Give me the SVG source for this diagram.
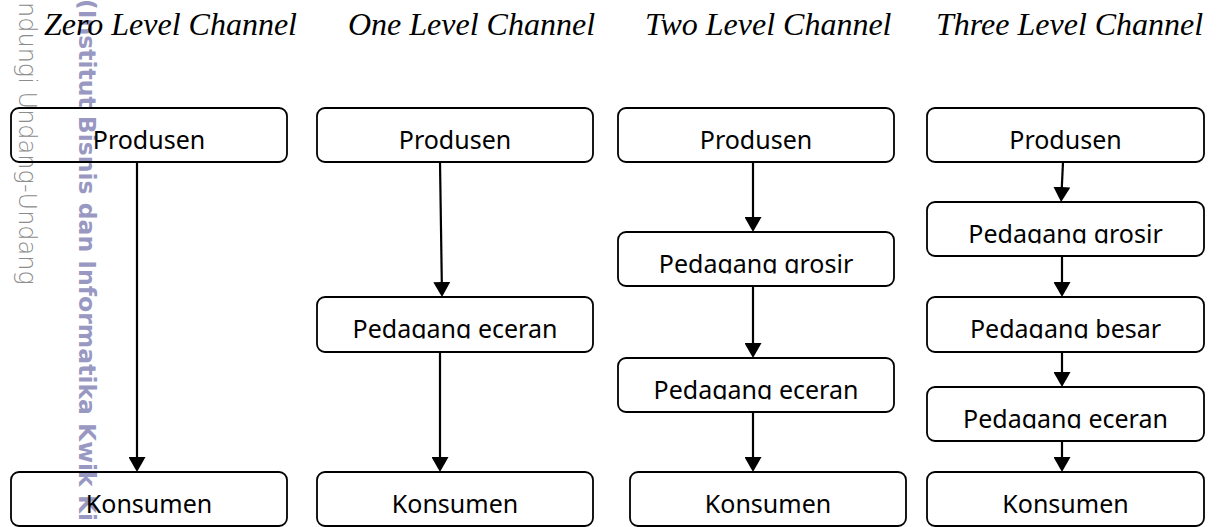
<svg xmlns="http://www.w3.org/2000/svg" width="1219" height="527" viewBox="0 0 1219 527">
<style>
.title{font-family:"Liberation Serif","Times New Roman",serif;font-style:italic;font-size:32px;fill:#000}
.box{fill:none;stroke:#000;stroke-width:1.8}
.lbl{font-family:"Noto Sans","Open Sans",sans-serif;font-size:25px;fill:#000;text-anchor:middle}
.edge{stroke:#000;stroke-width:2.2;fill:none;marker-end:url(#ah)}
.wm{font-family:"DejaVu Sans",sans-serif;font-weight:bold;font-size:23.5px;fill:#9898c2}
.wm2{font-family:"DejaVu Sans",sans-serif;font-weight:200;font-size:24px;fill:#8c8c8c}
</style>
<defs>
<marker id="ah" markerUnits="userSpaceOnUse" markerWidth="15" markerHeight="17" viewBox="0 0 15 17" refX="7" refY="8.5" orient="auto">
<path d="M0,0 L15,8.5 L0,17 Z" fill="#000"/>
</marker>
<clipPath id="c1"><rect x="11" y="108" width="276" height="41.5"/></clipPath>
<clipPath id="c2"><rect x="11" y="472" width="276" height="41.5"/></clipPath>
<clipPath id="c3"><rect x="317" y="108" width="276" height="41.5"/></clipPath>
<clipPath id="c4"><rect x="317" y="297" width="276" height="41.5"/></clipPath>
<clipPath id="c5"><rect x="317" y="472" width="276" height="41.5"/></clipPath>
<clipPath id="c6"><rect x="618" y="108" width="276" height="41.5"/></clipPath>
<clipPath id="c7"><rect x="618" y="232" width="276" height="41.5"/></clipPath>
<clipPath id="c8"><rect x="618" y="358" width="276" height="41.5"/></clipPath>
<clipPath id="c9"><rect x="630" y="472" width="276" height="41.5"/></clipPath>
<clipPath id="c10"><rect x="927" y="108" width="277" height="41.5"/></clipPath>
<clipPath id="c11"><rect x="927" y="202" width="277" height="41.5"/></clipPath>
<clipPath id="c12"><rect x="927" y="297" width="277" height="41.5"/></clipPath>
<clipPath id="c13"><rect x="927" y="387" width="277" height="41.5"/></clipPath>
<clipPath id="c14"><rect x="927" y="472" width="277" height="41.5"/></clipPath>
</defs>
<rect width="1219" height="527" fill="#fff"/>
<g id="watermark">
<text class="wm2" transform="translate(19,2) rotate(90)">ndungi Undang-Undang</text>
<text class="wm" transform="translate(79,-1) rotate(90)">(Institut Bisnis dan Informatika Kwik Ki</text>
</g>
<g id="titles">
<text class="title" x="44" y="35">Zero Level Channel</text>
<text class="title" x="348" y="35">One Level Channel</text>
<text class="title" x="645" y="35">Two Level Channel</text>
<text class="title" x="936" y="35">Three Level Channel</text>
</g>
<g id="connectors">
<path class="edge" d="M137,162 L137,464"/>
<path class="edge" d="M440,162 L441.9,289"/>
<path class="edge" d="M440,352 L440,464"/>
<path class="edge" d="M753,162 L753,224"/>
<path class="edge" d="M753,286 L753,350"/>
<path class="edge" d="M753,412 L753,464"/>
<path class="edge" d="M1063,162 L1061.5,194"/>
<path class="edge" d="M1062,256 L1062,289"/>
<path class="edge" d="M1062,352 L1062,379"/>
<path class="edge" d="M1062,441 L1062,464"/>
</g>
<g id="n1"><rect class="box" x="11" y="108" width="276" height="54" rx="8"/><text class="lbl" x="149" y="148.5" clip-path="url(#c1)">Produsen</text></g>
<g id="n2"><rect class="box" x="11" y="472" width="276" height="54" rx="8"/><text class="lbl" x="149" y="512.5" clip-path="url(#c2)">Konsumen</text></g>
<g id="n3"><rect class="box" x="317" y="108" width="276" height="54" rx="8"/><text class="lbl" x="455" y="148.5" clip-path="url(#c3)">Produsen</text></g>
<g id="n4"><rect class="box" x="317" y="297" width="276" height="55" rx="8"/><text class="lbl" x="455" y="337.5" clip-path="url(#c4)">Pedagang eceran</text></g>
<g id="n5"><rect class="box" x="317" y="472" width="276" height="54" rx="8"/><text class="lbl" x="455" y="512.5" clip-path="url(#c5)">Konsumen</text></g>
<g id="n6"><rect class="box" x="618" y="108" width="276" height="54" rx="8"/><text class="lbl" x="756" y="148.5" clip-path="url(#c6)">Produsen</text></g>
<g id="n7"><rect class="box" x="618" y="232" width="276" height="54" rx="8"/><text class="lbl" x="756" y="272.5" clip-path="url(#c7)">Pedagang grosir</text></g>
<g id="n8"><rect class="box" x="618" y="358" width="276" height="54" rx="8"/><text class="lbl" x="756" y="398.5" clip-path="url(#c8)">Pedagang eceran</text></g>
<g id="n9"><rect class="box" x="630" y="472" width="276" height="54" rx="8"/><text class="lbl" x="768" y="512.5" clip-path="url(#c9)">Konsumen</text></g>
<g id="n10"><rect class="box" x="927" y="108" width="277" height="54" rx="8"/><text class="lbl" x="1065.5" y="148.5" clip-path="url(#c10)">Produsen</text></g>
<g id="n11"><rect class="box" x="927" y="202" width="277" height="54" rx="8"/><text class="lbl" x="1065.5" y="242.5" clip-path="url(#c11)">Pedagang grosir</text></g>
<g id="n12"><rect class="box" x="927" y="297" width="277" height="55" rx="8"/><text class="lbl" x="1065.5" y="337.5" clip-path="url(#c12)">Pedagang besar</text></g>
<g id="n13"><rect class="box" x="927" y="387" width="277" height="54" rx="8"/><text class="lbl" x="1065.5" y="427.5" clip-path="url(#c13)">Pedagang eceran</text></g>
<g id="n14"><rect class="box" x="927" y="472" width="277" height="54" rx="8"/><text class="lbl" x="1065.5" y="512.5" clip-path="url(#c14)">Konsumen</text></g>
</svg>
